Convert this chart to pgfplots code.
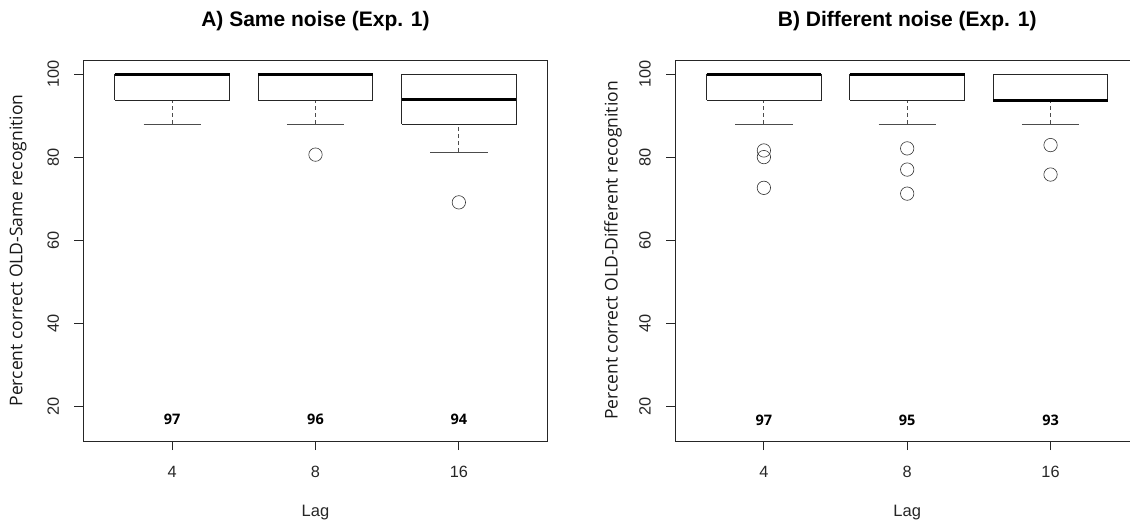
\documentclass[border=0pt]{standalone}
\usepackage{fontspec}
\setmainfont{Liberation Sans}
\newfontfamily\osans{Open Sans}
\usepackage{pgfplots}
\pgfplotsset{compat=1.18}
\tikzset{cnt/.style={font=\osans\bfseries\fontsize{14.5}{16}\selectfont}}
\begin{document}
\begin{tikzpicture}
\path[use as bounding box] (0pt,0pt) rectangle (1130pt,523pt);
\pgfplotsset{
  myaxis/.style={
    scale only axis, width=464.4pt, height=381pt,
    anchor=south west,
    xmin=0.38, xmax=3.62, ymin=11.6, ymax=103.4,
    xtick={1,2,3}, xticklabels={4,8,16},
    ytick={20,40,60,80,100},
    /pgf/number format/assume math mode=true,
    tick align=outside, tick pos=left,
    major tick length=9pt,
    axis line style={black!85, line width=0.8pt},
    every tick/.style={black!85, line width=0.8pt},
    tick label style={font=\fontsize{16.3}{19}\selectfont, text=black!85},
    xticklabel style={anchor=center, yshift=-22pt},
    yticklabel style={anchor=center, xshift=-21pt, rotate=90},
    every axis x label/.style={at={(axis description cs:0.5,0)}, anchor=center, yshift=-72pt, font=\fontsize{16.5}{19}\selectfont, text=black!85},
    title style={at={(axis description cs:0.5,1)}, anchor=center, yshift=33pt, font=\bfseries\fontsize{21}{24}\selectfont},
    clip=false,
  },
  bx/.style={draw=black!85, line width=0.8pt, fill=white, solid, mark=none},
  med/.style={black, line width=3pt, mark=none},
  wsk/.style={black!70, line width=0.8pt, dash pattern=on 4pt off 3pt, mark=none},
  cap/.style={black!70, line width=0.8pt, solid, mark=none},
  ol/.style={only marks, mark=o, mark size=6.7pt, mark options={draw=black!80, line width=0.6pt}},
}
% Panel A
\begin{axis}[myaxis, at={(83.3pt,82pt)}, title={A) Same noise (Exp. 1)}, xlabel={Lag},
  ylabel={Percent correct OLD-Same recognition},
  every axis y label/.style={at={(axis description cs:0,0.5)}, anchor=center, xshift=-65.3pt, rotate=90, font=\osans\fontsize{17.5}{20}\selectfont, text=black!90}]
% Lag 4: lower whisker 88, Q1 93.75, median 100, Q3 100
\addplot[wsk] coordinates {(1,88) (1,93.75)};
\addplot[cap] coordinates {(0.8,88) (1.2,88)};
\addplot[bx] coordinates {(0.6,93.75) (1.4,93.75) (1.4,100) (0.6,100) (0.6,93.75)};
\addplot[med] coordinates {(0.6,100) (1.4,100)};
% Lag 8
\addplot[wsk] coordinates {(2,88) (2,93.75)};
\addplot[cap] coordinates {(1.8,88) (2.2,88)};
\addplot[bx] coordinates {(1.6,93.75) (2.4,93.75) (2.4,100) (1.6,100) (1.6,93.75)};
\addplot[med] coordinates {(1.6,100) (2.4,100)};
% Lag 16: lower whisker 81.2, Q1 88, median 93.9, Q3 100
\addplot[wsk] coordinates {(3,81.2) (3,88)};
\addplot[cap] coordinates {(2.8,81.2) (3.2,81.2)};
\addplot[bx] coordinates {(2.6,88) (3.4,88) (3.4,100) (2.6,100) (2.6,88)};
\addplot[med] coordinates {(2.6,93.9) (3.4,93.9)};
% outliers
\addplot[ol] coordinates {(2,80.6) (3,69.1)};
\node[cnt] at (axis cs:1,16.9) {97};
\node[cnt] at (axis cs:2,16.9) {96};
\node[cnt] at (axis cs:3,16.9) {94};
\end{axis}
% Panel B
\begin{axis}[myaxis, at={(675pt,82pt)}, title={B) Different noise (Exp. 1)}, xlabel={Lag},
  ylabel={Percent correct OLD-Different recognition},
  every axis y label/.style={at={(axis description cs:0,0.5)}, anchor=center, xshift=-62pt, rotate=90, font=\osans\fontsize{17.5}{20}\selectfont, text=black!90}]
\addplot[wsk] coordinates {(1,88) (1,93.75)};
\addplot[cap] coordinates {(0.8,88) (1.2,88)};
\addplot[bx] coordinates {(0.6,93.75) (1.4,93.75) (1.4,100) (0.6,100) (0.6,93.75)};
\addplot[med] coordinates {(0.6,100) (1.4,100)};
\addplot[wsk] coordinates {(2,88) (2,93.75)};
\addplot[cap] coordinates {(1.8,88) (2.2,88)};
\addplot[bx] coordinates {(1.6,93.75) (2.4,93.75) (2.4,100) (1.6,100) (1.6,93.75)};
\addplot[med] coordinates {(1.6,100) (2.4,100)};
\addplot[wsk] coordinates {(3,88) (3,93.75)};
\addplot[cap] coordinates {(2.8,88) (3.2,88)};
\addplot[bx] coordinates {(2.6,93.75) (3.4,93.75) (3.4,100) (2.6,100) (2.6,93.75)};
\addplot[med] coordinates {(2.6,93.75) (3.4,93.75)};
\addplot[ol] coordinates {(1,81.6) (1,80.0) (1,72.6) (2,82.1) (2,77.0) (2,71.2) (3,82.9) (3,75.8)};
\node[cnt] at (axis cs:1,16.5) {97};
\node[cnt] at (axis cs:2,16.5) {95};
\node[cnt] at (axis cs:3,16.5) {93};
\end{axis}
\end{tikzpicture}
\end{document}
